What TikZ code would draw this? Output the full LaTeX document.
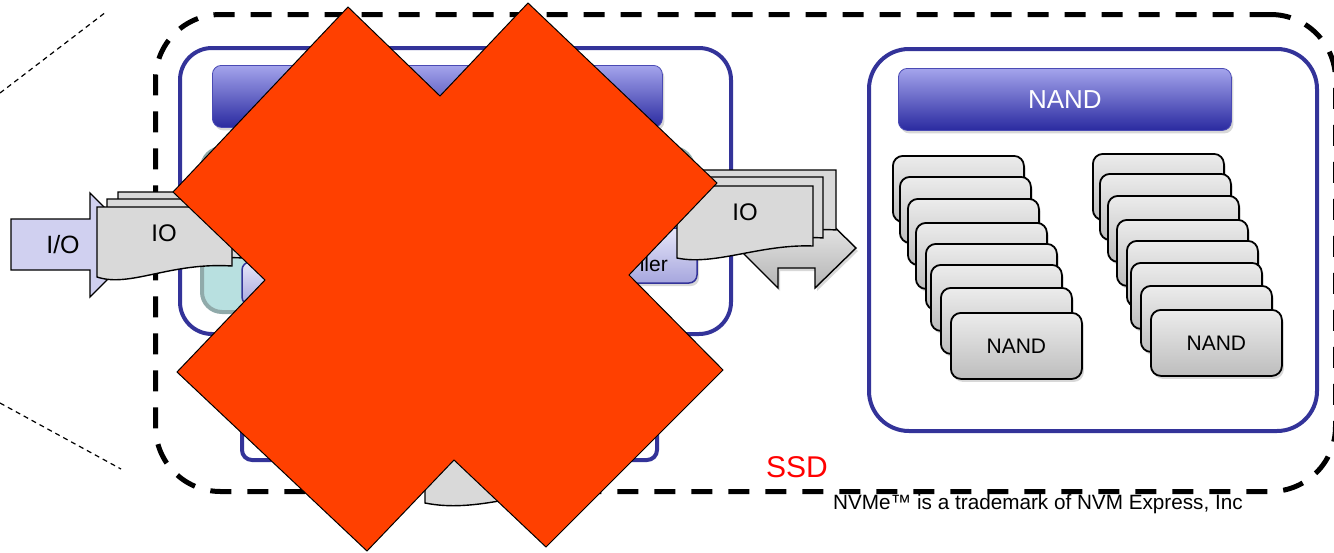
\documentclass[tikz,border=0pt]{standalone}
\usepackage{fontspec}
\setmainfont{Liberation Sans}
\usetikzlibrary{shadows}

\definecolor{frameblue}{HTML}{333399}
\definecolor{barlight}{HTML}{A4A4EC}
\definecolor{bardark}{HTML}{2A2AA0}
\definecolor{baredge}{HTML}{4A4AB4}
\definecolor{ioarrow}{HTML}{D0D0F0}
\definecolor{docgray}{HTML}{D9D9D9}
\definecolor{tealfill}{HTML}{B8E0E0}
\definecolor{tealedge}{HTML}{90AAAA}
\definecolor{ctrltop}{HTML}{E6E6F8}
\definecolor{ctrlbot}{HTML}{A6A6DE}
\definecolor{xred}{HTML}{FF4000}
\definecolor{chiptop}{HTML}{ECECEC}
\definecolor{chipbot}{HTML}{BDBDBD}
\definecolor{arrtop}{HTML}{F2F2F2}
\definecolor{arrbot}{HTML}{B4B4B4}

\tikzset{
  softshadow/.style={drop shadow={opacity=0.3, shadow xshift=2pt, shadow yshift=-3pt}},
  bluebox/.style={draw=frameblue, line width=4pt, rounded corners=#1, inner sep=0pt},
  headbar/.style={rounded corners=9pt, top color=barlight, bottom color=bardark,
    draw=baredge, line width=0.8pt, softshadow, inner sep=0pt,
    text=white, font=\fontsize{26}{30}\selectfont},
  chip/.style={rounded corners=10pt, top color=chiptop, bottom color=chipbot,
    draw=black, line width=1.8pt, softshadow, inner sep=0pt,
    minimum width=131pt, minimum height=66pt, anchor=north west,
    font=\fontsize{21}{24}\selectfont},
  iodoc/.style={fill=docgray, draw=black, line width=1.4pt},
  ssdline/.style={draw=black, line width=5pt, dash pattern=on 21pt off 16pt,
    rounded corners=65pt, inner sep=0pt},
  thindash/.style={draw=black, line width=1.2pt, dash pattern=on 5pt off 4pt},
  ctrlpart/.style={rounded corners=8pt, top color=ctrltop, bottom color=ctrlbot,
    draw=frameblue, line width=1.5pt, softshadow},
  label/.style={inner sep=0pt, font=\fontsize{24}{28}\selectfont},
}

\begin{document}
\begin{tikzpicture}[x=1pt, y=-1pt]
  \useasboundingbox (0,0) rectangle (1334,552);
  \fill[white] (0,0) rectangle (1334,552);

  % zoom guide lines on the far left
  \coordinate (gA1) at (0,93);    \coordinate (gA2) at (106,12);
  \coordinate (gB1) at (0,403);   \coordinate (gB2) at (121,469);
  \draw[thindash] (gA1) -- (gA2);
  \draw[thindash] (gB1) -- (gB2);

  % SSD enclosure
  \node[ssdline, minimum width=1180pt, minimum height=477pt, anchor=north west]
    (ssd) at (153,12) {};

  % controller block
  \node[bluebox=32pt, minimum width=551pt, minimum height=286pt, anchor=north west]
    (ctrl) at (178,46) {};
  \node[headbar, minimum width=450pt, minimum height=62pt, anchor=north west]
    (ctrlbar) at (212,65) {};
  \draw[fill=tealfill, draw=tealedge, line width=4pt, rounded corners=20pt]
    (202,312) -- (202,148) -- (693,148) -- (693,280) -- (500,280) -- (500,312) -- cycle;
  \draw[ctrlpart] (242,262) rectangle (400,305);
  \draw[ctrlpart] (430,228) rectangle (697,283);
  \node[anchor=base east, inner sep=0pt, font=\fontsize{21}{24}\selectfont]
    (ctrltext) at (668,271) {ller};

  % lower block
  \node[bluebox=10pt, minimum width=415pt, minimum height=113pt, anchor=north west]
    (lower) at (240,345) {};

  % NAND block
  \node[bluebox=40pt, minimum width=448pt, minimum height=382pt, anchor=north west]
    (nandbox) at (867,47) {};
  \node[headbar, minimum width=333pt, minimum height=62pt, anchor=north west]
    (nandbar) at (898,68) {NAND};

  \foreach \px/\py [count=\i] in {892/155, 899/176, 907/198, 915/222, 925/243, 930/264, 940/287}
    \node[chip] (nl\i) at (\px,\py) {};
  \node[chip] (nl8) at (950,312) {NAND};

  \foreach \px/\py [count=\i] in {1092/153, 1099/173, 1107/195, 1116/219, 1126/240, 1130/262, 1140/285}
    \node[chip] (nr\i) at (\px,\py) {};
  \node[chip] (nr8) at (1150,309) {NAND};

  % outgoing double arrow
  \draw[top color=arrtop, bottom color=arrbot, draw=black, line width=1.4pt, softshadow]
    (738,248) -- (778,208) -- (778,228) -- (815,228) -- (815,208) -- (856,248)
    -- (815,288) -- (815,268) -- (778,268) -- (778,288) -- cycle;

  % outgoing IO stack
  \draw[iodoc] (700,170) -- (836,170) -- (836,230)
    .. controls (790,226) and (745,255) .. (700,248) -- cycle;
  \draw[iodoc] (687,177) -- (823,177) -- (823,238)
    .. controls (778,234) and (733,263) .. (687,256) -- cycle;
  \draw[iodoc] (677,186) -- (813,186) -- (813,246)
    .. controls (760,244) and (715,266) .. (677,258) -- cycle;
  \node[label] (ioR) at (745,212) {IO};

  % incoming I/O arrow
  \draw[fill=ioarrow, draw=black, line width=1.4pt]
    (11,219) -- (90,219) -- (90,193) -- (142,245) -- (90,297) -- (90,270) -- (11,270) -- cycle;
  \node[label, font=\fontsize{25}{28}\selectfont] (ioin) at (63,245) {I/O};

  % incoming IO stack
  \draw[iodoc] (118,192) -- (254,192) -- (254,250)
    .. controls (200,246) and (155,278) .. (118,268) -- cycle;
  \draw[iodoc] (107,199) -- (243,199) -- (243,258)
    .. controls (185,254) and (140,286) .. (107,275) -- cycle;
  \draw[iodoc] (97,207) -- (232,207) -- (232,266)
    .. controls (170,262) and (130,288) .. (97,277) -- cycle;
  \node[label] (ioL) at (164,233) {IO};

  % IO heading to the lower block
  \draw[iodoc] (425,430) -- (540,430) -- (540,492)
    .. controls (480,507) and (450,508) .. (425,503) -- cycle;

  % crossing-out mark
  \draw[fill=xred, draw=black, line width=1pt]
    (348,7) -- (440,96) -- (528,3) -- (717,183) -- (629,275) -- (723,370)
    -- (546,547) -- (454,460) -- (367,551) -- (177,372) -- (265,280) -- (173,192) -- cycle;

  % captions
  \node[anchor=base west, inner sep=0pt, text=red, font=\fontsize{30}{34}\selectfont]
    (ssdlabel) at (766,477) {SSD};
  \node[anchor=base west, inner sep=0pt, font=\fontsize{20.7}{24}\selectfont]
    (tm) at (833,509) {NVMe™ is a trademark of NVM Express, Inc};
\end{tikzpicture}
\end{document}
